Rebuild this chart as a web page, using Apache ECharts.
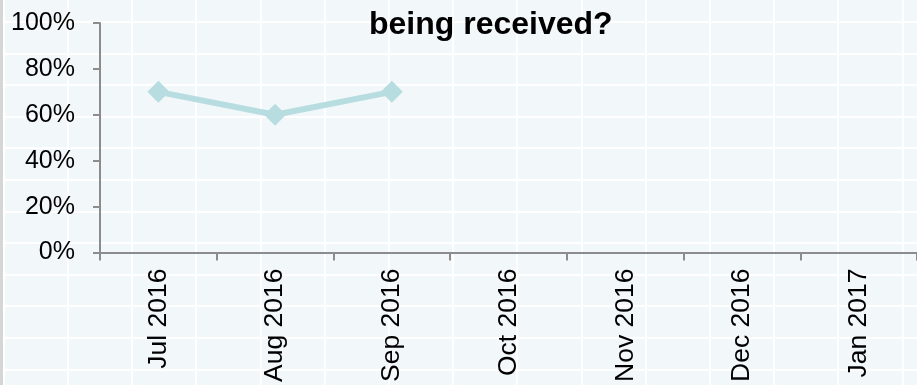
<!DOCTYPE html>
<html>
<head>
<meta charset="utf-8">
<script src="https://cdn.jsdelivr.net/npm/echarts@6/dist/echarts.min.js"></script>
<style>
  html, body { margin: 0; padding: 0; }
  body {
    width: 917px;
    height: 385px;
    overflow: hidden;
    background-color: #f2f7fa;
    background-image:
      repeating-linear-gradient(to right, transparent 0 2.8px, #fff 2.8px 4.8px, transparent 4.8px 64.2px),
      repeating-linear-gradient(to bottom, transparent 0 21px, #fff 21px 23px, transparent 23px 31.6px);
  }
  #main {
    width: 914px;
    height: 385px;
    border-left: 3px solid #d6d6d6;
  }
</style>
</head>
<body>
<div id="main"></div>
<script>
// chart data
const months = ['Jul 2016', 'Aug 2016', 'Sep 2016', 'Oct 2016', 'Nov 2016', 'Dec 2016', 'Jan 2017']
const received = [70, 60, 70, null, null, null, null]
const titleText = 'being received?'

const chart = echarts.init(document.getElementById('main'))

const axisGray = '#8c8c8c'

const option = {
  backgroundColor: 'transparent',
  animation: false,
  title: {
    text: titleText,
    left: 361,
    top: 4,
    textStyle: {
      fontFamily: 'Liberation Sans',
      fontWeight: 'bold',
      fontSize: 32,
      color: '#000'
    }
  },
  grid: {
    left: 97,
    top: 23,
    width: 820,
    height: 231
  },
  xAxis: {
    type: 'category',
    data: months,
    boundaryGap: true,
    axisLine: { lineStyle: { color: axisGray, width: 2 } },
    axisTick: { show: true, length: 8, interval: 0, lineStyle: { color: axisGray, width: 2 } },
    axisLabel: {
      interval: 0,
      rotate: 90,
      margin: 16,
      color: '#000',
      fontFamily: 'Liberation Sans',
      fontSize: 26.5
    },
    splitLine: { show: false }
  },
  yAxis: {
    type: 'value',
    min: 0,
    max: 100,
    interval: 20,
    axisLine: { show: true, lineStyle: { color: axisGray, width: 2 } },
    axisTick: { show: true, length: 7, lineStyle: { color: axisGray, width: 2 } },
    axisLabel: {
      formatter: '{value}%',
      margin: 25,
      color: '#000',
      fontFamily: 'Liberation Sans',
      fontSize: 25
    },
    splitLine: { show: false }
  },
  series: [
    {
      type: 'line',
      data: received,
      symbol: 'diamond',
      symbolSize: 22,
      lineStyle: { color: '#b8dde0', width: 6 },
      itemStyle: { color: '#b8dde0' }
    }
  ]
}

chart.setOption(option)
</script>
</body>
</html>
